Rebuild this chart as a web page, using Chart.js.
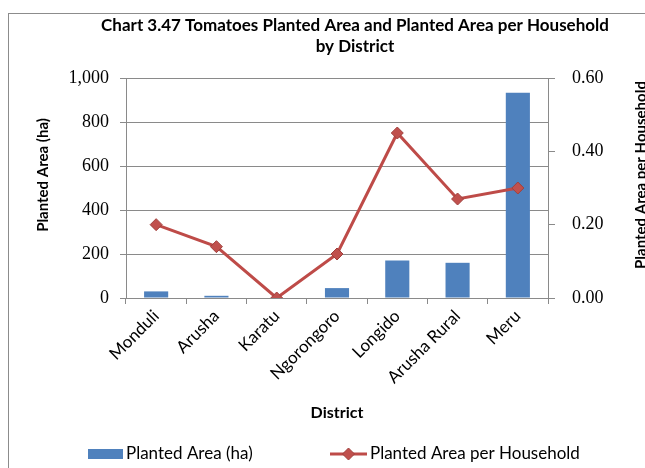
<!DOCTYPE html>
<html>
<head>
<meta charset="utf-8">
<script src="https://cdn.jsdelivr.net/npm/chart.js@4.4.1/dist/chart.umd.min.js"></script>
<style>
  html, body { margin: 0; padding: 0; background: #fff; overflow: hidden; }
  #wrap { position: relative; width: 645px; height: 468px; }
  #frame { position: absolute; left: 8px; top: 13px; right: -5px; bottom: -5px;
           border-left: 1px solid #8c8c8c; border-top: 1px solid #8c8c8c; }
  canvas { position: absolute; left: 0; top: 0; }
</style>
</head>
<body>
<div id="wrap">
  <div id="frame"></div>
  <canvas id="chart" width="645" height="468"></canvas>
</div>
<script>
const districts = ["Monduli", "Arusha", "Karatu", "Ngorongoro", "Longido", "Arusha Rural", "Meru"];
const plantedArea = [30, 10, 0, 45, 171, 160, 933];
const areaPerHousehold = [0.20, 0.14, 0.00, 0.12, 0.45, 0.27, 0.30];
const leftTicks = [0, 200, 400, 600, 800, 1000];
const rightTicks = [0, 0.2, 0.4, 0.6];
const titleLines = ["Chart 3.47 Tomatoes Planted Area and Planted Area per Household", "by District"];
const leftTitle = "Planted Area (ha)";
const rightTitle = "Planted Area per Household";
const xTitle = "District";

const SANS = "Lato, 'Noto Sans', sans-serif";
const SERIF = "'Liberation Serif', serif";
const GRID = "#8a8a8a";

// title, side axis titles and legend drawn by hand (positions follow the Excel original)
const extras = {
  id: "extras",
  afterDraw(chart) {
    const ctx = chart.ctx;
    ctx.save();
    ctx.fillStyle = "#000";
    ctx.textAlign = "center";
    ctx.textBaseline = "middle";
    ctx.font = "bold 17px " + SANS;
    ctx.fillText(titleLines[0], 355, 26);
    ctx.fillText(titleLines[1], 355, 47);

    const midY = 175;
    ctx.font = "bold 15px " + SANS;
    ctx.translate(43, midY);
    ctx.rotate(-Math.PI / 2);
    ctx.fillText(leftTitle, 0, 0);
    ctx.setTransform(1, 0, 0, 1, 0, 0);
    ctx.font = "bold 15px " + SANS;
    ctx.translate(641, midY);
    ctx.rotate(-Math.PI / 2);
    ctx.fillText(rightTitle, 0, 0);
    ctx.setTransform(1, 0, 0, 1, 0, 0);

    // legend
    const ds = chart.data.datasets;
    const ly = 454;
    ctx.font = "17px " + SANS;
    ctx.textAlign = "left";
    ctx.fillStyle = ds[0].backgroundColor;
    ctx.fillRect(88, ly - 5, 35, 10);
    ctx.fillStyle = "#000";
    ctx.fillText(ds[0].label, 126, ly);

    ctx.strokeStyle = ds[1].borderColor;
    ctx.lineWidth = 3;
    ctx.beginPath();
    ctx.moveTo(330, ly);
    ctx.lineTo(367, ly);
    ctx.stroke();
    ctx.fillStyle = ds[1].pointBackgroundColor;
    ctx.strokeStyle = ds[1].pointBorderColor;
    ctx.lineWidth = 1;
    ctx.beginPath();
    ctx.moveTo(348.5, ly - 6);
    ctx.lineTo(354.5, ly);
    ctx.lineTo(348.5, ly + 6);
    ctx.lineTo(342.5, ly);
    ctx.closePath();
    ctx.fill();
    ctx.stroke();
    ctx.fillStyle = "#000";
    ctx.fillText(ds[1].label, 370, ly);
    ctx.restore();
  }
};

const data = {
  labels: districts,
  datasets: [
    {
      type: "bar",
      label: "Planted Area (ha)",
      data: plantedArea,
      yAxisID: "y",
      backgroundColor: "#4F81BD",
      barPercentage: 0.4,
      categoryPercentage: 1,
      order: 1,
    },
    {
      type: "line",
      label: "Planted Area per Household",
      data: areaPerHousehold,
      yAxisID: "y1",
      borderColor: "#BE4B48",
      borderWidth: 3,
      pointStyle: "rectRot",
      pointRadius: 6,
      pointBackgroundColor: "#C0504D",
      pointBorderColor: "#A0403D",
      pointBorderWidth: 1,
      tension: 0,
      order: 0,
    },
  ],
};

const config = {
  type: "bar",
  data: data,
  plugins: [extras],
  options: {
    responsive: false,
    animation: false,
    layout: { padding: { top: 78, bottom: 34, left: 0, right: 0 } },
    plugins: {
      legend: { display: false },
      title: { display: false },
      tooltip: { enabled: false },
    },
    scales: {
      x: {
        offset: true,
        grid: { display: true, drawOnChartArea: false, tickLength: 6, color: GRID },
        border: { color: GRID },
        ticks: {
          minRotation: 45,
          maxRotation: 45,
          padding: 2,
          color: "#000",
          font: { family: SANS, size: 17 },
        },
        title: {
          display: true,
          text: xTitle,
          color: "#000",
          font: { family: SANS, size: 16, weight: "bold" },
          padding: { top: 0, bottom: 12 },
        },
        afterFit(scale) { scale.height = 136; },
      },
      y: {
        position: "left",
        min: leftTicks[0],
        max: leftTicks[leftTicks.length - 1],
        afterBuildTicks(scale) { scale.ticks = leftTicks.map(v => ({ value: v })); },
        grid: { color: GRID, tickLength: 6 },
        border: { color: GRID },
        ticks: {
          padding: 11,
          color: "#000",
          font: { family: SERIF, size: 18 },
          callback: v => v.toLocaleString("en-US"),
        },
        afterFit(scale) { scale.width = 126; },
      },
      y1: {
        position: "right",
        min: rightTicks[0],
        max: rightTicks[rightTicks.length - 1],
        afterBuildTicks(scale) { scale.ticks = rightTicks.map(v => ({ value: v })); },
        grid: { drawOnChartArea: false, color: GRID, tickLength: 7 },
        border: { color: GRID },
        ticks: {
          padding: 17,
          color: "#000",
          font: { family: SERIF, size: 18 },
          callback: v => v.toFixed(2),
        },
        afterFit(scale) { scale.width = 97; },
      },
    },
  },
};

const myChart = new Chart(document.getElementById("chart"), config);
</script>
</body>
</html>
